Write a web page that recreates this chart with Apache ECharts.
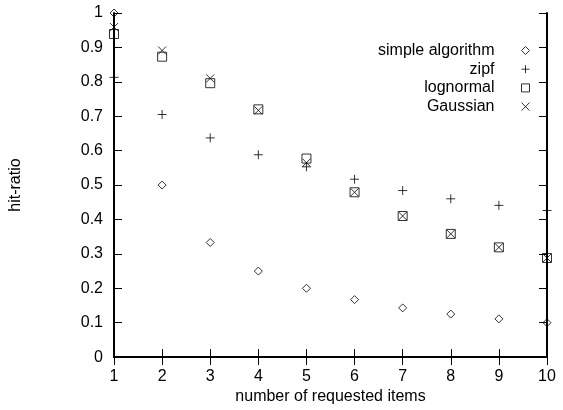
<!DOCTYPE html>
<html><head><meta charset="utf-8">
<script src="https://cdn.jsdelivr.net/npm/echarts@6/dist/echarts.min.js"></script>
<style>html,body{margin:0;padding:0;background:#fff}#c{width:563px;height:410px}</style>
</head><body><div id="c"></div>
<script>
const xValues = [1,2,3,4,5,6,7,8,9,10];
const simpleAlgorithm = [1.0,0.5,0.333,0.25,0.2,0.167,0.143,0.125,0.111,0.1];
const zipf = [0.813,0.705,0.637,0.588,0.553,0.517,0.484,0.46,0.441,0.426];
const lognormal = [0.939,0.873,0.796,0.72,0.577,0.479,0.41,0.358,0.319,0.288];
const gaussian = [0.959,0.891,0.81,0.717,0.565,0.479,0.41,0.358,0.319,0.288];
const seriesNames = ['simple algorithm','zipf','lognormal','Gaussian'];

const FONT = 'Liberation Sans, Arial, sans-serif';
const symPlus = 'path://M0,5L10,5M5,0L5,10';
const symX = 'path://M0,0L10,10M0,10L10,0';
const symbols = ['diamond', symPlus, 'rect', symX];
const sizes = [8, 9, 9, 8];
const datasets = [simpleAlgorithm, zipf, lognormal, gaussian];

const chart = echarts.init(document.getElementById('c'));
const axisLine = {show:true, lineStyle:{color:'#000', width:2}};
const tick = {show:true, inside:true, length:8, lineStyle:{color:'#000', width:1}};

const series = datasets.map((d,i)=>({
  name: seriesNames[i], type:'scatter', clip:false,
  symbol: symbols[i], symbolSize: sizes[i],
  itemStyle:{color:'rgba(0,0,0,0)', borderColor:'#000', borderWidth:1},
  data: xValues.map((x,j)=>[x,d[j]])
}));

const legends = seriesNames.map((n,i)=>({
  data:[{name:n, icon: symbols[i], itemStyle:{color:'rgba(0,0,0,0)', borderColor:'#000', borderWidth:1}}],
  right: 33, top: 42.5 + i*18.7, align:'right', orient:'vertical',
  itemWidth: 8, itemHeight: 8, padding:0,
  textStyle:{fontFamily:FONT, fontSize:16, color:'#000', padding:[0,22,0,0]},
  selectedMode:false
}));

chart.setOption({
  animation:false,
  backgroundColor:'#fff',
  grid:{left:114, right:16, top:13, bottom:49},
  legend: legends,
  xAxis:[{
    type:'value', min:1, max:10, interval:1, position:'bottom',
    name:'number of requested items', nameLocation:'middle', nameGap:30,
    nameTextStyle:{fontFamily:FONT, fontSize:16, color:'#000'},
    axisLine, axisTick:tick, splitLine:{show:false},
    axisLabel:{fontFamily:FONT, fontSize:16, color:'#000', margin:11}
  },{
    type:'value', min:1, max:10, interval:1, position:'top',
    axisLine, axisTick:tick, splitLine:{show:false}, axisLabel:{show:false}
  }],
  yAxis:[{
    type:'value', min:0, max:1, interval:0.1, position:'left',
    name:'hit-ratio', nameLocation:'middle', nameGap:90, nameRotate:90,
    nameTextStyle:{fontFamily:FONT, fontSize:16, color:'#000'},
    axisLine, axisTick:tick, splitLine:{show:false},
    axisLabel:{fontFamily:FONT, fontSize:16, color:'#000', margin:11,
      formatter:v=>String(Math.round(v*10)/10)}
  },{
    type:'value', min:0, max:1, interval:0.1, position:'right',
    axisLine, axisTick:tick, splitLine:{show:false}, axisLabel:{show:false}
  }],
  series
});
</script></body></html>
